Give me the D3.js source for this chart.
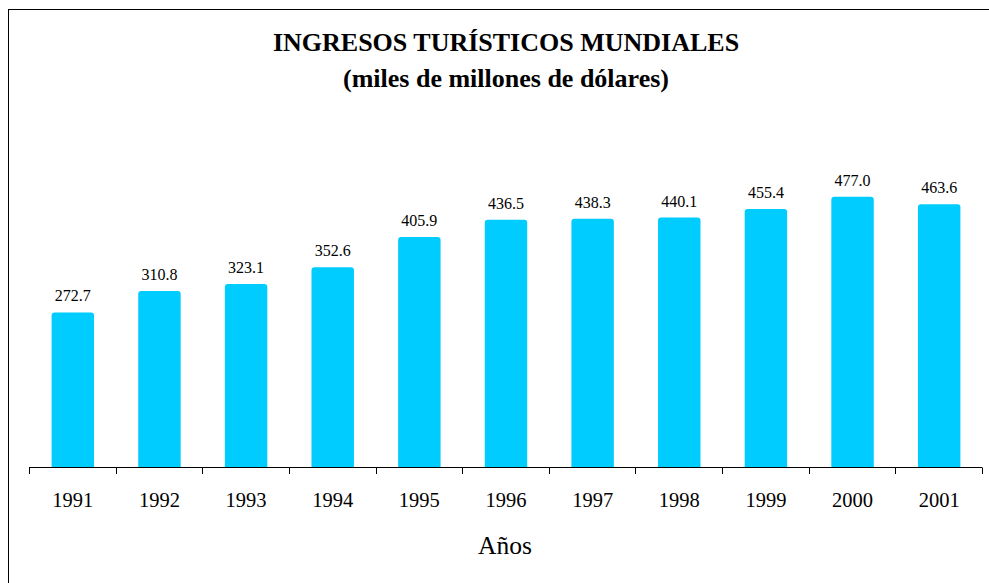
<!DOCTYPE html>
<html lang="es">
<head>
    <meta charset="UTF-8">
    <title>Ingresos turísticos mundiales</title>
    <script src="https://d3js.org/d3.v7.min.js"></script>
    <style>
        body { margin: 0; background: #fff; }
        svg { display: block; }
    </style>
</head>
<body>
    <svg id="chart" width="989" height="583"></svg>
    <script>
        // data
        const years = ["1991", "1992", "1993", "1994", "1995", "1996", "1997", "1998", "1999", "2000", "2001"];
        const ingresos = [272.7, 310.8, 323.1, 352.6, 405.9, 436.5, 438.3, 440.1, 455.4, 477.0, 463.6];

        const FONT = "'Liberation Serif', 'Times New Roman', Times, serif";
        const W = 989, H = 583;
        const margin = { top: 127, right: 7, bottom: 116, left: 29 };
        const width = W - margin.left - margin.right;
        const height = H - margin.top - margin.bottom;

        const svg = d3.select("#chart").attr("font-family", FONT);

        // outer frame (runs off the right/bottom edge like the original)
        svg.append("rect")
            .attr("x", 8.5).attr("y", 9.5)
            .attr("width", 1000).attr("height", 600)
            .attr("fill", "none")
            .attr("stroke", "#000")
            .attr("stroke-width", 1);

        svg.append("text")
            .attr("x", 506).attr("y", 51)
            .attr("text-anchor", "middle")
            .attr("font-size", 26)
            .attr("font-weight", "bold")
            .text("INGRESOS TURÍSTICOS MUNDIALES");

        svg.append("text")
            .attr("x", 506).attr("y", 87)
            .attr("text-anchor", "middle")
            .attr("font-size", 26)
            .attr("font-weight", "bold")
            .text("(miles de millones de dólares)");

        const g = svg.append("g").attr("transform", `translate(${margin.left},${margin.top})`);

        const x = d3.scaleBand().domain(years).range([0, width])
            .paddingInner(0.51).paddingOuter(0.255);
        const y = d3.scaleLinear().domain([0, 600]).range([height, 0]);

        g.selectAll(".bar")
            .data(ingresos)
            .join("rect")
            .attr("class", "bar")
            .attr("x", (d, i) => x(years[i]) + 0.5)
            .attr("y", d => y(d))
            .attr("width", x.bandwidth())
            .attr("height", d => height - y(d) + 3)
            .attr("rx", 3)
            .attr("fill", "#00CCFF");

        // hide the rounded bottoms under the axis
        g.append("rect")
            .attr("x", -2).attr("y", height + 0.5)
            .attr("width", width + 4).attr("height", 6)
            .attr("fill", "#fff");

        g.selectAll(".val")
            .data(ingresos)
            .join("text")
            .attr("class", "val")
            .attr("x", (d, i) => x(years[i]) + x.bandwidth() / 2 + 0.5)
            .attr("y", d => y(d) - 11)
            .attr("text-anchor", "middle")
            .attr("font-size", 16)
            .text(d => d.toFixed(1));

        // axis with ticks between categories
        const axis = g.append("g").attr("transform", `translate(0,${height})`);
        axis.append("line")
            .attr("x1", 0).attr("x2", width)
            .attr("y1", 0.5).attr("y2", 0.5)
            .attr("stroke", "#000");
        const bounds = d3.range(years.length + 1).map(i => i * width / years.length);
        axis.selectAll(".tk")
            .data(bounds)
            .join("line")
            .attr("class", "tk")
            .attr("x1", d => Math.round(d) + 0.5).attr("x2", d => Math.round(d) + 0.5)
            .attr("y1", 0.5).attr("y2", 7)
            .attr("stroke", "#000");

        axis.selectAll(".yr")
            .data(years)
            .join("text")
            .attr("class", "yr")
            .attr("x", d => x(d) + x.bandwidth() / 2 + 0.5)
            .attr("y", 40)
            .attr("text-anchor", "middle")
            .attr("font-size", 20.5)
            .text(d => d);

        svg.append("text")
            .attr("x", 505).attr("y", 554)
            .attr("text-anchor", "middle")
            .attr("font-size", 25.5)
            .text("Años");
    </script>
</body>
</html>
